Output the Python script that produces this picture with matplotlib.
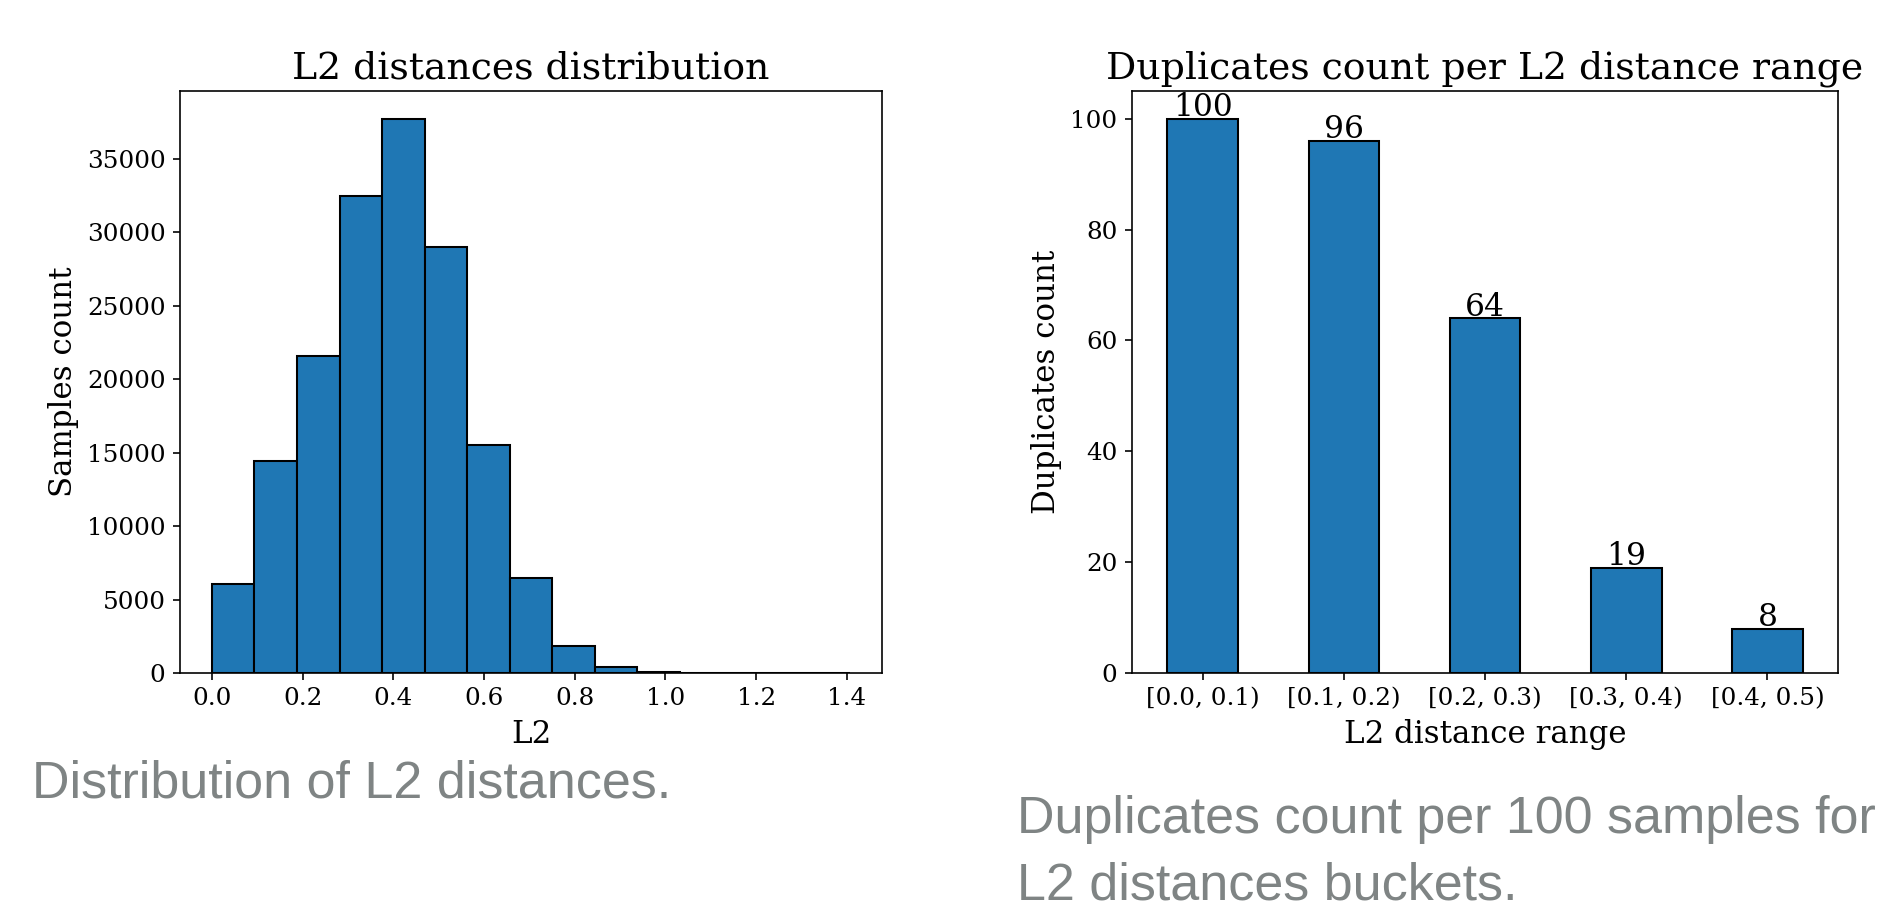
import numpy as np
import matplotlib
matplotlib.use("Agg")
import matplotlib.pyplot as plt

# ---- data ----
hist_max_l2 = 1.407
hist_counts = [6070, 14440, 21570, 32460, 37720, 28990, 15500, 6480, 1865, 415, 95, 30, 12, 5, 2]
dup_ranges = ["[0.0, 0.1)", "[0.1, 0.2)", "[0.2, 0.3)", "[0.3, 0.4)", "[0.4, 0.5)"]
dup_counts = [100, 96, 64, 19, 8]

left_title = "L2 distances distribution"
right_title = "Duplicates count per L2 distance range"
left_caption = "Distribution of L2 distances."
right_caption = ["Duplicates count per 100 samples for", "L2 distances buckets."]

DPI = 148
W, H = 1881, 909
plt.rcParams['font.family'] = 'DejaVu Serif'
plt.rcParams['xtick.labelsize'] = 12
plt.rcParams['ytick.labelsize'] = 12

fig = plt.figure(figsize=(W / DPI, H / DPI), dpi=DPI)
fig.patch.set_facecolor('white')

ax1 = fig.add_axes([180 / W, (H - 673) / H, 702 / W, 582 / H])
ax2 = fig.add_axes([1132 / W, (H - 673) / H, 706 / W, 582 / H])

# left histogram
edges = np.linspace(0, hist_max_l2, len(hist_counts) + 1)
centers = (edges[:-1] + edges[1:]) / 2
ax1.hist(centers, bins=edges, weights=hist_counts, color='#1f77b4', edgecolor='black', linewidth=1.0)
ax1.set_title(left_title, fontsize=18.4, pad=6)
ax1.set_xlabel("L2", fontsize=15)
ax1.set_ylabel("Samples count", fontsize=15)

# right bar chart
pos = np.arange(len(dup_ranges))
ax2.bar(pos, dup_counts, width=0.5, color='#1f77b4', edgecolor='black', linewidth=1.0)
ax2.set_xlim(-0.5, len(dup_ranges) - 0.5)
ax2.set_xticks(pos)
ax2.set_xticklabels(dup_ranges)
for p, v in zip(pos, dup_counts):
    ax2.annotate(str(v), xy=(p, v), xytext=(0, 1.2), textcoords='offset points',
                 ha='center', va='baseline', fontsize=15.2)
ax2.set_title(right_title, fontsize=18.4, pad=6)
ax2.set_xlabel("L2 distance range", fontsize=15)
ax2.set_ylabel("Duplicates count", fontsize=15)

# captions
cap_color = '#7f8484'
fig.text(32 / W, (H - 798) / H, left_caption, fontsize=25.3, color=cap_color,
         family='Liberation Sans', va='baseline', ha='left')
fig.text(1017 / W, (H - 833) / H, right_caption[0], fontsize=25.3, color=cap_color,
         family='Liberation Sans', va='baseline', ha='left')
fig.text(1017 / W, (H - 899) / H, right_caption[1], fontsize=25.3, color=cap_color,
         family='Liberation Sans', va='baseline', ha='left')

fig.savefig("out.png", dpi=DPI)
